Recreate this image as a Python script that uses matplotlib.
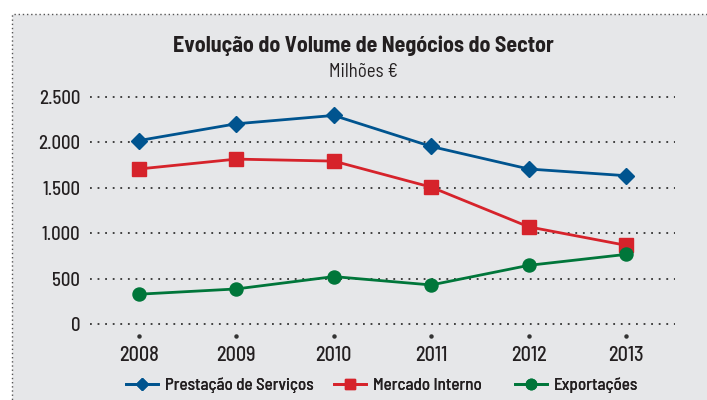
import matplotlib
matplotlib.use("Agg")
import matplotlib.pyplot as plt
from matplotlib.patches import Rectangle
from matplotlib.lines import Line2D
from matplotlib.transforms import blended_transform_factory

plt.rcParams['font.family'] = ['Barlow Semi Condensed', 'DejaVu Sans']

years = [2008, 2009, 2010, 2011, 2012, 2013]
prestacao = [2020, 2205, 2297, 1955, 1707, 1633]
mercado = [1707, 1816, 1794, 1507, 1070, 866]
exportacoes = [328, 386, 522, 430, 646, 767]
series_names = ["Prestação de Serviços", "Mercado Interno", "Exportações"]
yticks = [0, 500, 1000, 1500, 2000, 2500]
ytick_labels = ["0", "500", "1.000", "1.500", "2.000", "2.500"]

blue = "#00548f"
red = "#d6232b"
green = "#00763a"
txt = "#231f20"
bg = "#e6e7e9"

fig = plt.figure(figsize=(7.07, 4.0), dpi=100)
fig.patch.set_facecolor("white")
panel = Rectangle((12/707, -0.05), 1.0, 1 - 14/400 + 0.05, transform=fig.transFigure,
                  facecolor=bg, edgecolor="#555555", linestyle=(0, (1, 2)), linewidth=1.0, zorder=-5)
fig.patches.append(panel)

ax = fig.add_axes([90/707, 1-324/400, (675-90)/707, (324-97)/400])
ax.set_zorder(2)
ax.set_facecolor("none")
for s in ax.spines.values():
    s.set_visible(False)
ax.set_xlim(2007.5, 2013.5)
ax.set_ylim(0, 2500)
ax.set_yticks(yticks)
ax.set_yticklabels(ytick_labels, fontweight=500)
ax.set_xticks(years)
ax.set_xticklabels([str(y) for y in years], fontweight=500)
ax.tick_params(axis='both', length=0, labelcolor=txt)
ax.tick_params(axis='y', pad=7, labelsize=13.5)
ax.tick_params(axis='x', pad=16, labelsize=14.5)
for yv in yticks:
    ax.axhline(yv, color="#333333", linestyle=(0, (1, 3.2)), linewidth=1.3, zorder=1, clip_on=False)

trans = blended_transform_factory(ax.transData, ax.transAxes)
ax.plot(years, [-0.055]*len(years), linestyle="none", marker="o", markersize=2.2,
        color="#333333", transform=trans, clip_on=False)

ax.plot(years, prestacao, color=blue, linewidth=2.0, marker="D", markersize=8, zorder=3)
ax.plot(years, mercado, color=red, linewidth=2.0, marker="s", markersize=9.4, zorder=3)
ax.plot(years, exportacoes, color=green, linewidth=2.0, marker="o", markersize=9.4, zorder=4)

fig.text(363/707, 1-46/400, "Evolução do Volume de Negócios do Sector", ha="center", va="center",
         fontsize=15.8, fontweight="bold", color=txt)
fig.text(363/707, 1-72/400, "Milhões €", ha="center", va="center", fontsize=13.5, color=txt)

handles = [Line2D([], [], color=blue, linewidth=2.0, marker="D", markersize=6.5),
           Line2D([], [], color=red, linewidth=2.0, marker="s", markersize=7.5),
           Line2D([], [], color=green, linewidth=2.0, marker="o", markersize=7.5)]
leg_x = [126, 334, 515]
for h, name, lx in zip(handles, series_names, leg_x):
    lg = fig.legend([h], [name], loc="center left", bbox_to_anchor=(lx/707, 1-385/400),
                    frameon=False, handlelength=1.9, handletextpad=0.4,
                    borderpad=0, borderaxespad=0, labelcolor=txt, prop={'weight': 500, 'size': 12.2})
    fig.add_artist(lg)

fig.savefig("out.png", dpi=100, facecolor=fig.get_facecolor())
